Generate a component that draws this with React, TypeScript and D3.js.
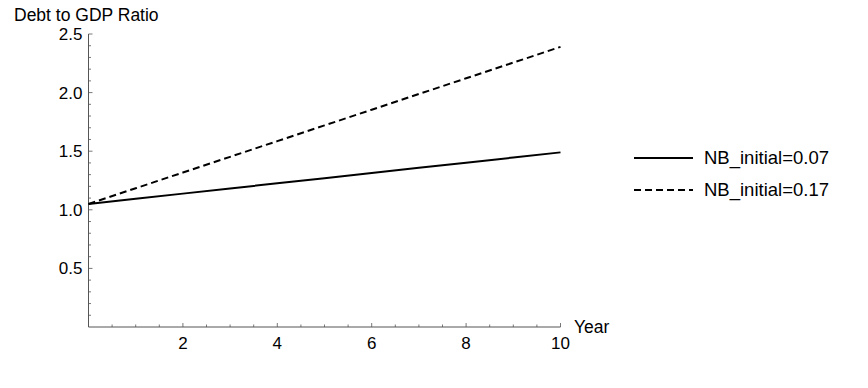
import React, { useEffect, useRef } from "react";
import * as d3 from "d3";

const years = [0, 1, 2, 3, 4, 5, 6, 7, 8, 9, 10];
const lowNB = [1.05, 1.094, 1.138, 1.182, 1.226, 1.27, 1.314, 1.358, 1.402, 1.446, 1.49];
const highNB = [1.05, 1.184, 1.318, 1.452, 1.586, 1.72, 1.854, 1.988, 2.122, 2.256, 2.39];
const seriesNames = ["NB_initial=0.07", "NB_initial=0.17"];
const xTicks = [2, 4, 6, 8, 10];
const yTicks = [0.5, 1.0, 1.5, 2.0, 2.5];

const App = () => {
  const svgRef = useRef<SVGSVGElement>(null);

  useEffect(() => {
    const w = 868;
    const h = 388;
    const svg = d3.select(svgRef.current).attr("width", w).attr("height", h);
    svg.selectAll("*").remove();

    const font = "'Liberation Sans', Arial, sans-serif";
    const axisColor = "#555";

    const x = d3.scaleLinear().domain([0, 10]).range([88.5, 560.5]);
    const y = d3.scaleLinear().domain([0, 2.5]).range([327, 34]);

    // axes lines
    svg.append("line")
      .attr("x1", x(0)).attr("x2", x(10))
      .attr("y1", y(0)).attr("y2", y(0))
      .attr("stroke", axisColor).attr("stroke-width", 1);
    svg.append("line")
      .attr("x1", x(0)).attr("x2", x(0))
      .attr("y1", y(0)).attr("y2", y(2.5))
      .attr("stroke", axisColor).attr("stroke-width", 1);

    // x ticks
    const xMinor = d3.range(0.5, 10.01, 0.5);
    svg.selectAll(".xt").data(xMinor).enter().append("line")
      .attr("x1", (d) => x(d)).attr("x2", (d) => x(d))
      .attr("y1", y(0))
      .attr("y2", (d) => y(0) - (Math.abs(d % 2) < 1e-6 ? 4 : 2.5))
      .attr("stroke", axisColor).attr("stroke-width", 0.8);
    svg.selectAll(".xl").data(xTicks).enter().append("text")
      .attr("x", (d) => x(d)).attr("y", y(0) + 22)
      .attr("text-anchor", "middle")
      .attr("font-family", font).attr("font-size", 17)
      .text((d) => d);

    // y ticks
    const yMinor = d3.range(1, 26).map((i) => i / 10);
    svg.selectAll(".yt").data(yMinor).enter().append("line")
      .attr("x1", x(0))
      .attr("x2", (d) => x(0) + (Math.round(d * 10) % 5 === 0 ? 4 : 2.5))
      .attr("y1", (d) => y(d)).attr("y2", (d) => y(d))
      .attr("stroke", axisColor).attr("stroke-width", 0.8);
    svg.selectAll(".yl").data(yTicks).enter().append("text")
      .attr("x", x(0) - 6).attr("y", (d) => y(d) + 6)
      .attr("text-anchor", "end")
      .attr("font-family", font).attr("font-size", 17)
      .text((d) => d.toFixed(1));

    // axis labels
    svg.append("text")
      .attr("x", 14).attr("y", 20.5)
      .attr("font-family", font).attr("font-size", 17.5)
      .text("Debt to GDP Ratio");
    svg.append("text")
      .attr("x", 574).attr("y", 333)
      .attr("font-family", font).attr("font-size", 17.5)
      .text("Year");

    // series lines
    const line = d3.line<number>()
      .x((_, i) => x(years[i]))
      .y((d) => y(d));
    const series = [lowNB, highNB];
    const dashes = [null, "7,4"];
    series.forEach((s, i) => {
      svg.append("path")
        .attr("d", line(s))
        .attr("fill", "none")
        .attr("stroke", "#000")
        .attr("stroke-width", 2)
        .attr("stroke-dasharray", dashes[i]);
    });

    // legend
    const legend = svg.append("g");
    seriesNames.forEach((name, i) => {
      const ly = 158 + i * 32;
      legend.append("line")
        .attr("x1", 634).attr("x2", 693)
        .attr("y1", ly).attr("y2", ly)
        .attr("stroke", "#000").attr("stroke-width", 2)
        .attr("stroke-dasharray", dashes[i]);
      legend.append("text")
        .attr("x", 704).attr("y", ly + 6)
        .attr("font-family", font).attr("font-size", 18.5)
        .text(name);
    });
  }, []);

  return (
    <div style={{ position: "absolute", left: 0, top: 0 }}>
      <svg ref={svgRef}></svg>
    </div>
  );
};

export default App;
